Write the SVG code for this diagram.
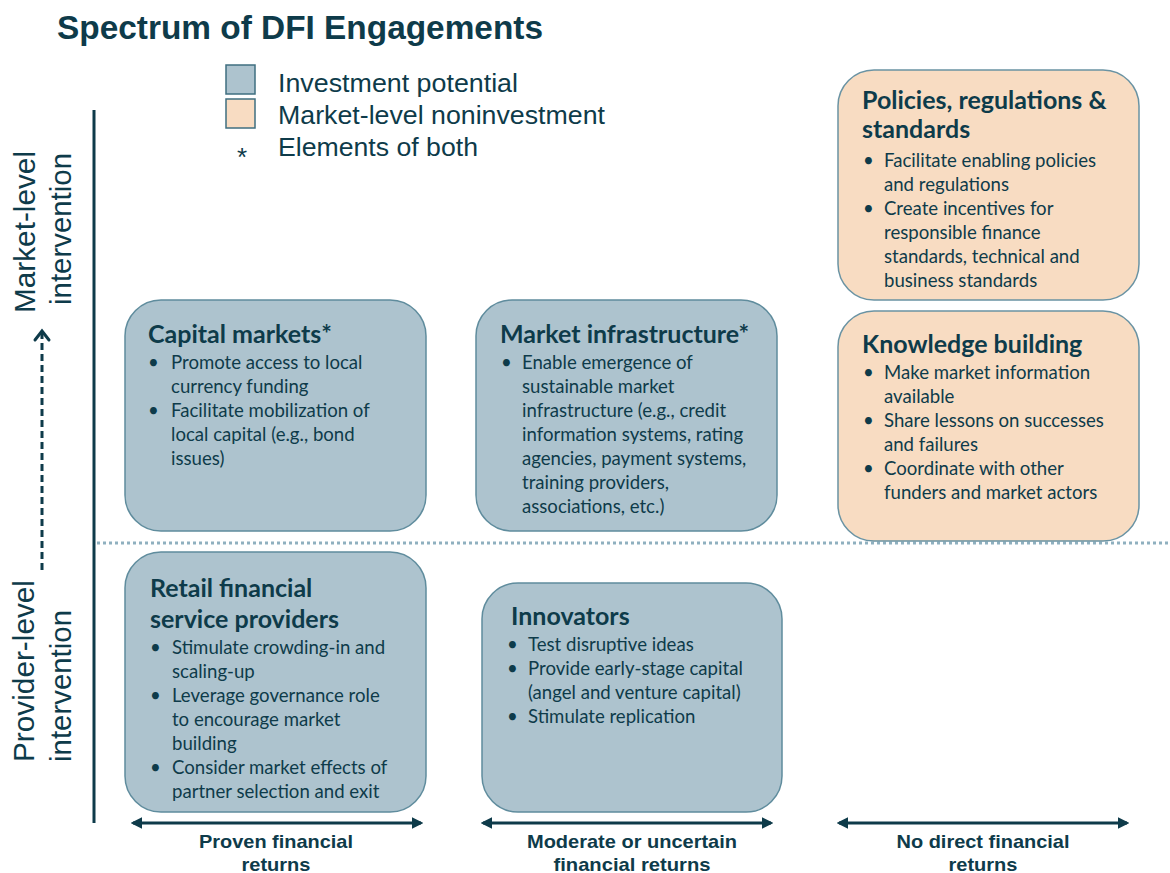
<svg xmlns="http://www.w3.org/2000/svg" width="1170" height="873" viewBox="0 0 1170 873">
<style>
.title{font-family:"Liberation Sans",Arial,sans-serif;font-weight:bold;font-size:33px;fill:#0e3b4a}
.leg{font-family:"Liberation Sans",Arial,sans-serif;font-size:26px;fill:#0e3b4a}
.axis{font-family:"Liberation Sans",Arial,sans-serif;font-size:29px;fill:#0e3b4a}
.ret{font-family:"Liberation Sans",Arial,sans-serif;font-weight:bold;font-size:19px;fill:#0e3b4a;text-anchor:middle}
.blue{fill:#adc3ce;stroke:#5f8c9d;stroke-width:1.5}
.peach{fill:#f8dcc2;stroke:#6a93a3;stroke-width:1.5}
.h{font-family:Lato,"Open Sans",sans-serif;font-weight:bold;font-size:25px;fill:#0e3b4a}
.b{font-family:Lato,"Open Sans",sans-serif;font-size:18.6px;fill:#0e3b4a}
.arr{stroke:#0e3b4a;stroke-width:3;fill:none}
</style>
<defs>
<marker id="tri" viewBox="0 0 10 10" refX="8" refY="5" markerWidth="3.8" markerHeight="3.8" orient="auto-start-reverse" markerUnits="strokeWidth">
<path d="M0,0 L10,5 L0,10 z" fill="#0e3b4a"/>
</marker>
</defs>

<text class="title" x="57" y="39" textLength="486" lengthAdjust="spacingAndGlyphs">Spectrum of DFI Engagements</text>

<g id="legend">
<rect x="226" y="65" width="29" height="29" fill="#adc3ce" stroke="#3f6f80" stroke-width="1.5"/>
<rect x="226" y="99" width="29" height="29" fill="#f8dcc2" stroke="#3f6f80" stroke-width="1.5"/>
<text class="leg" x="242" y="166" text-anchor="middle" font-size="26">*</text>
<text class="leg" x="278" y="92" textLength="240" lengthAdjust="spacingAndGlyphs">Investment potential</text>
<text class="leg" x="278" y="124" textLength="327" lengthAdjust="spacingAndGlyphs">Market-level noninvestment</text>
<text class="leg" x="278" y="156" textLength="200" lengthAdjust="spacingAndGlyphs">Elements of both</text>
</g>

<g id="axes">
<line x1="94" y1="110" x2="94" y2="823" stroke="#0e3b4a" stroke-width="3"/>
<line x1="97" y1="543" x2="1170" y2="543" stroke="#8fb0bf" stroke-width="3" stroke-dasharray="3 3"/>
<text class="axis" transform="translate(35,232) rotate(-90)" text-anchor="middle" textLength="162" lengthAdjust="spacingAndGlyphs">Market-level</text>
<text class="axis" transform="translate(71,229) rotate(-90)" text-anchor="middle" textLength="152" lengthAdjust="spacingAndGlyphs">intervention</text>
<text class="axis" transform="translate(34,762) rotate(-90)" textLength="182" lengthAdjust="spacingAndGlyphs">Provider-level</text>
<text class="axis" transform="translate(71,762) rotate(-90)" textLength="152" lengthAdjust="spacingAndGlyphs">intervention</text>
</g>

<g id="connectors">
<line x1="42" y1="570" x2="42" y2="333" stroke="#0e3b4a" stroke-width="3" stroke-dasharray="7 4"/>
<path d="M35,340 L42,331 L49,340" fill="none" stroke="#0e3b4a" stroke-width="3" stroke-linecap="round" stroke-linejoin="miter"/>
<line class="arr" x1="133" y1="823" x2="421" y2="823" marker-start="url(#tri)" marker-end="url(#tri)"/>
<line class="arr" x1="483" y1="823" x2="771" y2="823" marker-start="url(#tri)" marker-end="url(#tri)"/>
<line class="arr" x1="839" y1="823" x2="1127" y2="823" marker-start="url(#tri)" marker-end="url(#tri)"/>
</g>

<g id="returns-labels">
<text class="ret" x="276" y="848" textLength="154" lengthAdjust="spacingAndGlyphs">Proven financial</text>
<text class="ret" x="276" y="871" textLength="69" lengthAdjust="spacingAndGlyphs">returns</text>
<text class="ret" x="632" y="848" textLength="210" lengthAdjust="spacingAndGlyphs">Moderate or uncertain</text>
<text class="ret" x="632" y="871" textLength="157" lengthAdjust="spacingAndGlyphs">financial returns</text>
<text class="ret" x="983" y="848" textLength="173" lengthAdjust="spacingAndGlyphs">No direct financial</text>
<text class="ret" x="983" y="871" textLength="69" lengthAdjust="spacingAndGlyphs">returns</text>
</g>

<g id="capital-markets">
<rect class="blue" x="125" y="300" width="301" height="231" rx="36"/>
<text class="h" x="148" y="343">Capital markets*</text>
<text class="b" x="148" y="369">•</text><text class="b" x="171" y="369">Promote access to local</text>
<text class="b" x="171" y="393">currency funding</text>
<text class="b" x="148" y="417">•</text><text class="b" x="171" y="417">Facilitate mobilization of</text>
<text class="b" x="171" y="441">local capital (e.g., bond</text>
<text class="b" x="171" y="465">issues)</text>
</g>

<g id="market-infrastructure">
<rect class="blue" x="476" y="300" width="301" height="231" rx="36"/>
<text class="h" x="500" y="343">Market infrastructure*</text>
<text class="b" x="501" y="369">•</text><text class="b" x="522" y="369">Enable emergence of</text>
<text class="b" x="522" y="393">sustainable market</text>
<text class="b" x="522" y="417">infrastructure (e.g., credit</text>
<text class="b" x="522" y="441">information systems, rating</text>
<text class="b" x="522" y="465">agencies, payment systems,</text>
<text class="b" x="522" y="489">training providers,</text>
<text class="b" x="522" y="513">associations, etc.)</text>
</g>

<g id="policies">
<rect class="peach" x="838" y="70" width="301" height="230" rx="36"/>
<text class="h" x="862" y="109">Policies, regulations &amp;</text>
<text class="h" x="862" y="138">standards</text>
<text class="b" x="863" y="167">•</text><text class="b" x="884" y="167">Facilitate enabling policies</text>
<text class="b" x="884" y="191">and regulations</text>
<text class="b" x="863" y="215">•</text><text class="b" x="884" y="215">Create incentives for</text>
<text class="b" x="884" y="239">responsible finance</text>
<text class="b" x="884" y="263">standards, technical and</text>
<text class="b" x="884" y="287">business standards</text>
</g>

<g id="knowledge-building">
<rect class="peach" x="838" y="311" width="301" height="230" rx="36"/>
<text class="h" x="862" y="353">Knowledge building</text>
<text class="b" x="863" y="379">•</text><text class="b" x="884" y="379">Make market information</text>
<text class="b" x="884" y="403">available</text>
<text class="b" x="863" y="427">•</text><text class="b" x="884" y="427">Share lessons on successes</text>
<text class="b" x="884" y="451">and failures</text>
<text class="b" x="863" y="475">•</text><text class="b" x="884" y="475">Coordinate with other</text>
<text class="b" x="884" y="499">funders and market actors</text>
</g>

<g id="retail-providers">
<rect class="blue" x="125" y="552" width="301" height="260" rx="36"/>
<text class="h" x="150" y="597">Retail financial</text>
<text class="h" x="150" y="628">service providers</text>
<text class="b" x="150" y="654">•</text><text class="b" x="172" y="654">Stimulate crowding-in and</text>
<text class="b" x="172" y="678">scaling-up</text>
<text class="b" x="150" y="702">•</text><text class="b" x="172" y="702">Leverage governance role</text>
<text class="b" x="172" y="726">to encourage market</text>
<text class="b" x="172" y="750">building</text>
<text class="b" x="150" y="774">•</text><text class="b" x="172" y="774">Consider market effects of</text>
<text class="b" x="172" y="798">partner selection and exit</text>
</g>

<g id="innovators">
<rect class="blue" x="482" y="583" width="300" height="229" rx="36"/>
<text class="h" x="511" y="625">Innovators</text>
<text class="b" x="507" y="651">•</text><text class="b" x="528" y="651">Test disruptive ideas</text>
<text class="b" x="507" y="675">•</text><text class="b" x="528" y="675">Provide early-stage capital</text>
<text class="b" x="528" y="699">(angel and venture capital)</text>
<text class="b" x="507" y="723">•</text><text class="b" x="528" y="723">Stimulate replication</text>
</g>
</svg>
